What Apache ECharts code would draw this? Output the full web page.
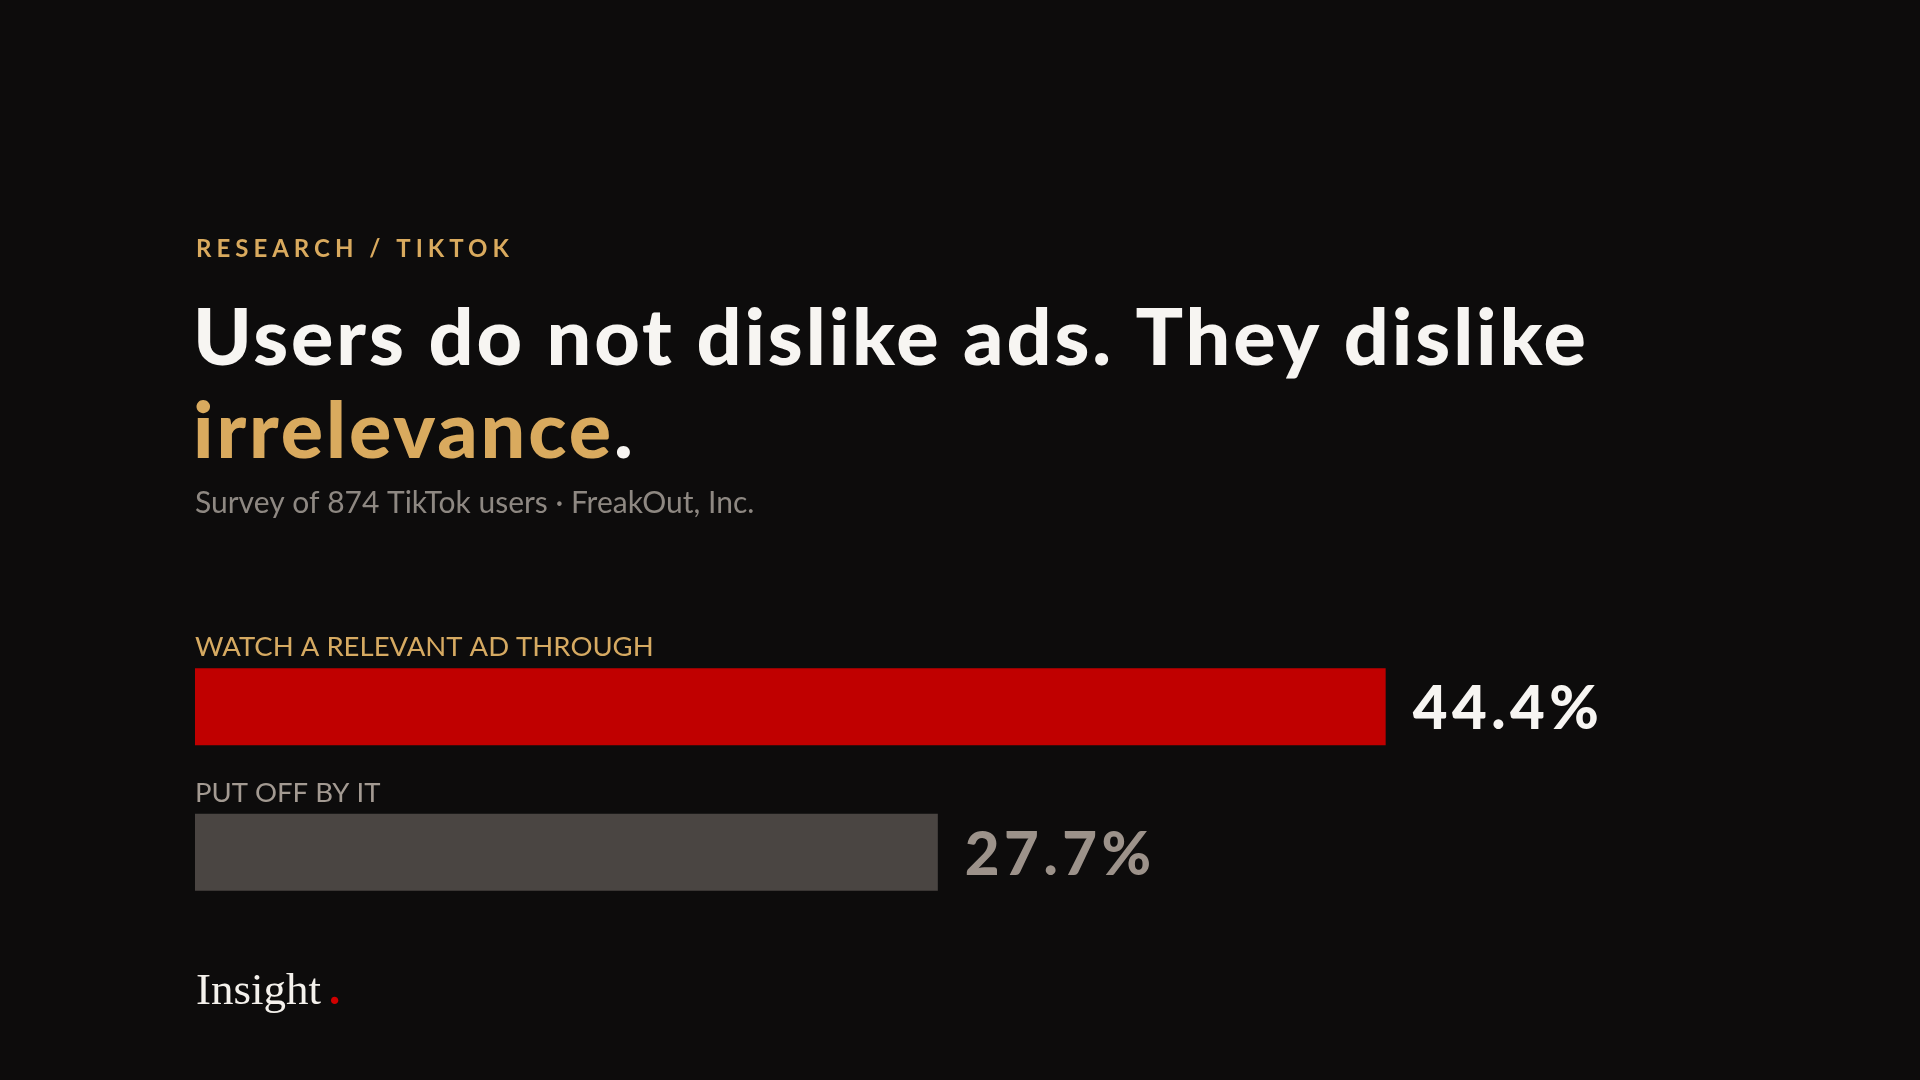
<!DOCTYPE html>
<html>
<head>
<meta charset="utf-8">
<style>
html,body{margin:0;padding:0;background:#0d0c0c;}
#chart{width:1920px;height:1080px;}
</style>
<script src="https://cdn.jsdelivr.net/npm/echarts@6/dist/echarts.min.js"></script>
</head>
<body>
<div id="chart"></div>
<script>
// ---- data ----
var categories = ['WATCH A RELEVANT AD THROUGH', 'PUT OFF BY IT'];
var values = [44.4, 27.7];
var eyebrow = 'RESEARCH / TIKTOK';
var titleLine1 = 'Users do not dislike ads. They dislike';
var titleHighlight = 'irrelevance';
var subtitle = 'Survey of 874 TikTok users \u00b7 FreakOut, Inc.';
var brand = 'Insight';

// ---- letter tracking (keyed by a marker family name in the font string) ----
var TRACK = {TrackEyebrow: '5px', TrackTitle: '2.9px', TrackValue: '4.5px'};
(function () {
  var P = CanvasRenderingContext2D.prototype;
  function apply(ctx) {
    if (!('letterSpacing' in ctx)) return;
    var f = ctx.font || '';
    var ls = '0px';
    for (var k in TRACK) { if (f.indexOf(k) >= 0) { ls = TRACK[k]; } }
    ctx.letterSpacing = ls;
  }
  ['fillText', 'strokeText', 'measureText'].forEach(function (m) {
    var orig = P[m];
    P[m] = function () { apply(this); return orig.apply(this, arguments); };
  });
})();

// ---- styles ----
var barColors = ['#c00000', '#4a4542'];
var catColors = ['#d6aa62', '#a39a92'];
var valColors = ['#f7f5f2', '#9c928a'];
var GOLD = '#d9aa5e';
var SANS = 'Lato, "Noto Sans", sans-serif';

var chart = echarts.init(document.getElementById('chart'), null, {renderer: 'canvas'});

var mainData = values.map(function (v, i) {
  return {
    value: v,
    itemStyle: {color: barColors[i]},
    label: {color: valColors[i]}
  };
});
var nameData = values.map(function (v, i) {
  return {
    value: v,
    label: {color: catColors[i], formatter: categories[i]}
  };
});

var option = {
  backgroundColor: '#0d0c0c',
  animation: false,
  grid: {left: 195, width: 1609, top: 634, height: 291},
  xAxis: {
    type: 'value', min: 0, max: 60,
    show: false
  },
  yAxis: {
    type: 'category', data: categories, inverse: true,
    show: false
  },
  graphic: [
    {
      type: 'text', left: 196, top: 235,
      style: {text: eyebrow, fill: GOLD, font: '700 24px TrackEyebrow, ' + SANS}
    },
    {
      type: 'text', left: 193, top: 299,
      style: {
        text: '{w|' + titleLine1 + '}\n{g|' + titleHighlight + '}{w|.}',
        rich: {
          w: {fill: '#f7f5f2', font: '900 79px TrackTitle, ' + SANS, lineHeight: 93},
          g: {fill: GOLD, font: '900 79px TrackTitle, ' + SANS, lineHeight: 93}
        }
      }
    },
    {
      type: 'text', left: 195, top: 488,
      style: {text: subtitle, fill: '#8e8882', font: '400 30px ' + SANS}
    },
    {
      type: 'text', left: 196, top: 970,
      style: {
        text: '{b|' + brand + '}{d|.}',
        rich: {
          b: {fill: '#f4f1ec', font: '45px "Liberation Serif", serif'},
          d: {fill: '#d00000', font: '700 45px "Liberation Serif", serif', padding: [0, 0, 0, 8]}
        }
      }
    }
  ],
  series: [
    {
      type: 'bar',
      data: mainData,
      barWidth: 77,
      label: {
        show: true, position: 'right', distance: 27, offset: [0, 3],
        fontFamily: 'TrackValue, Lato, "Noto Sans", sans-serif', fontWeight: 900, fontSize: 60,
        formatter: function (p) { return p.value.toFixed(1) + '%'; }
      }
    },
    {
      type: 'bar',
      data: nameData,
      barWidth: 77,
      barGap: '-100%',
      itemStyle: {color: 'rgba(0,0,0,0)'},
      silent: true,
      label: {
        show: true, position: [0, -21], align: 'left', verticalAlign: 'middle',
        fontFamily: SANS, fontWeight: 400, fontSize: 27.5
      }
    }
  ]
};
chart.setOption(option);
</script>
</body>
</html>
